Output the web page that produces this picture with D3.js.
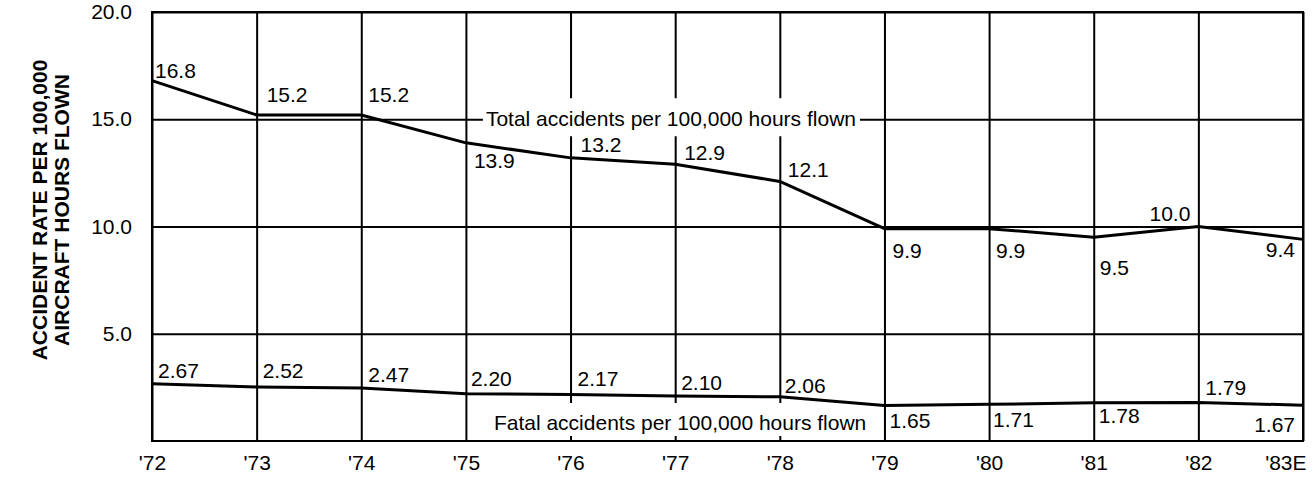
<!DOCTYPE html>
<html>
<head>
<meta charset="utf-8">
<style>
    body { margin: 0; background: #fff; }
    svg { display: block; font-family: 'Liberation Sans', Arial, Helvetica, sans-serif; }
    .axis .domain { display: none; }
    .axis .tick line { stroke: #000; stroke-width: 2; }
    .axis text { fill: #000; font-size: 21px; }
</style>
</head>
<body>
<svg width="1313" height="477"></svg>
<script src="https://d3js.org/d3.v7.min.js"></script>
<script>
    let years = ["'72", "'73", "'74", "'75", "'76", "'77", "'78", "'79", "'80", "'81", "'82", "'83E"];
    let totalRate = [16.8, 15.2, 15.2, 13.9, 13.2, 12.9, 12.1, 9.9, 9.9, 9.5, 10.0, 9.4];
    let fatalRate = [2.67, 2.52, 2.47, 2.20, 2.17, 2.10, 2.06, 1.65, 1.71, 1.78, 1.79, 1.67];
    let yTicks = [5, 10, 15, 20];

    // label placement next to each point: [dx, dy, anchor]
    let totalLabelPos = [[3, -3, "start"], [10, -13, "start"], [7, -13, "start"], [8, 25, "start"],
        [10, -6, "start"], [9, -4, "start"], [8, -4, "start"], [8, 29, "start"], [7, 29, "start"],
        [6, 38, "start"], [-8, -6, "end"], [-8, 18, "end"]];
    let fatalLabelPos = [[6, -6, "start"], [6, -9, "start"], [7, -6, "start"], [5, -8, "start"],
        [7, -8, "start"], [6, -6, "start"], [5, -4, "start"], [5, 22, "start"], [4, 23, "start"],
        [5, 20, "start"], [7, -8, "start"], [-8, 27, "end"]];

    let svg = d3.select("svg");
    let margin = { top: 12, right: 10, bottom: 36, left: 152 };
    let width = 1313, height = 477;

    let x = d3.scalePoint()
        .domain(years)
        .range([margin.left, width - margin.right]);

    let y = d3.scaleLinear()
        .domain([0, 20])
        .range([height - margin.bottom, margin.top]);

    let plotW = width - margin.left - margin.right;
    let plotH = height - margin.top - margin.bottom;

    // gridlines + tick labels
    let xAxis = svg.append("g")
        .attr("class", "x axis")
        .attr("transform", `translate(0,${height - margin.bottom})`)
        .call(d3.axisBottom(x).tickSize(-plotH).tickPadding(14));
    xAxis.selectAll(".tick text")
        .filter(d => d === "'83E")
        .attr("text-anchor", "end")
        .attr("dx", 3);

    svg.append("g")
        .attr("class", "y axis")
        .attr("transform", `translate(${margin.left},0)`)
        .call(d3.axisLeft(y).tickValues(yTicks).tickSize(-plotW).tickPadding(20).tickFormat(d3.format(".1f")));

    svg.append("rect")
        .attr("x", margin.left)
        .attr("y", margin.top)
        .attr("width", plotW)
        .attr("height", plotH)
        .attr("fill", "none")
        .attr("stroke", "#000")
        .attr("stroke-width", 2);

    // series names with white background knocking out grid
    function seriesLabel(text, tx, ty, padTop, padBottom) {
        let g = svg.append("g");
        let bg = g.append("rect").attr("fill", "#fff");
        let t = g.append("text")
            .attr("x", tx)
            .attr("y", ty)
            .attr("font-size", "21px")
            .text(text);
        let b = t.node().getBBox();
        bg.attr("x", b.x - 3)
            .attr("y", b.y - padTop)
            .attr("width", b.width + 7)
            .attr("height", b.height + padTop + padBottom);
    }
    seriesLabel("Total accidents per 100,000 hours flown", x("'75") + 20, y(15) + 7, 9, 6);
    seriesLabel("Fatal accidents per 100,000 hours flown", x("'75") + 28, y(0) - 11, 8, 2);

    let line = d3.line()
        .x((d, i) => x(years[i]))
        .y(d => y(d));

    [totalRate, fatalRate].forEach(s => {
        svg.append("path")
            .datum(s)
            .attr("fill", "none")
            .attr("stroke", "#000")
            .attr("stroke-width", 3)
            .attr("stroke-linejoin", "round")
            .attr("d", line);
    });

    function valueLabels(values, pos, fmt) {
        svg.append("g")
            .selectAll("text")
            .data(values)
            .join("text")
            .attr("x", (d, i) => x(years[i]) + pos[i][0])
            .attr("y", (d, i) => y(d) + pos[i][1])
            .attr("text-anchor", (d, i) => pos[i][2])
            .attr("font-size", "21px")
            .text(d => fmt(d));
    }
    valueLabels(totalRate, totalLabelPos, d3.format(".1f"));
    valueLabels(fatalRate, fatalLabelPos, d3.format(".2f"));

    svg.append("text")
        .attr("transform", `translate(40,210) rotate(-90)`)
        .attr("text-anchor", "middle")
        .attr("font-size", "21px")
        .attr("font-weight", "bold")
        .selectAll("tspan")
        .data(["ACCIDENT RATE PER 100,000", "AIRCRAFT HOURS FLOWN"])
        .join("tspan")
        .attr("x", 0)
        .attr("dy", (d, i) => i === 0 ? "0.35em" : "22")
        .text(d => d);
</script>
</body>
</html>
